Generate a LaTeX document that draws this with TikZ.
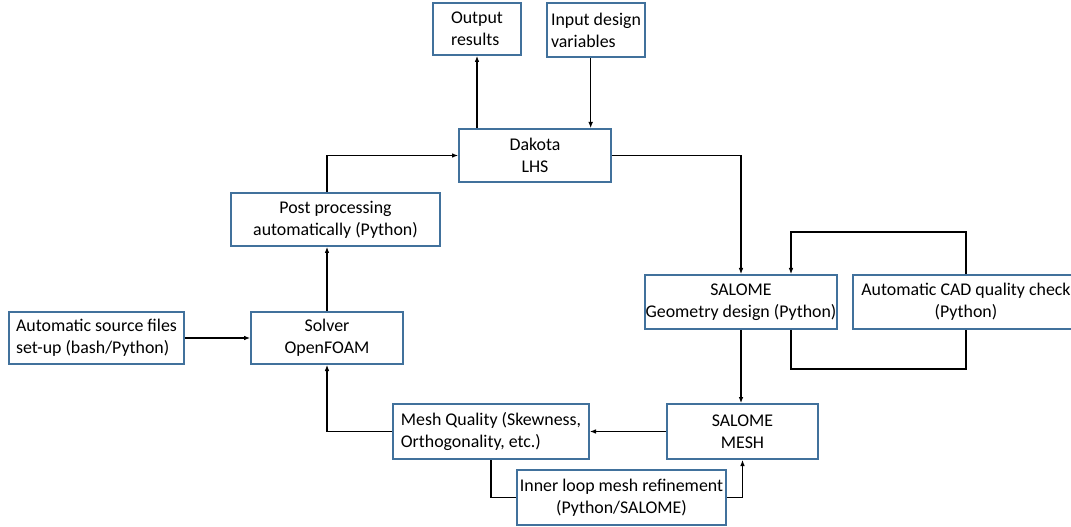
\documentclass[tikz,border=0pt]{standalone}
\usepackage{fontspec}
\setmainfont{Carlito}
\usetikzlibrary{arrows.meta}
\definecolor{boxblue}{RGB}{65,113,156}

\begin{document}
\begin{tikzpicture}[x=0.75pt,y=-0.75pt,
% common options for the boxes:
box/.style = {draw=boxblue, line width=1.5pt, fill=white, align=center,
            inner sep=0, font=\fontsize{13.4}{16.5}\selectfont},
lbox/.style = {box, align=left},
>={Latex[length=4.5pt,width=3.5pt]}, line width=0.8pt]
\clip (0,0) rectangle (1071,527);
\node[lbox, minimum width=66pt, minimum height=39pt] (out) at (477,29) {Output\\results};
\node[lbox, minimum width=73.5pt, minimum height=40.5pt] (inp) at (596,30) {Input design\\variables};
\node[box, minimum width=114pt, minimum height=39.75pt] (dak) at (535,155.5) {Dakota\\LHS};
\node[box, minimum width=156.75pt, minimum height=39.75pt] (post) at (335.5,219.5) {Post processing\\automatically (Python)};
\node[box, minimum width=114pt, minimum height=39pt] (solv) at (327,338) {Solver\\OpenFOAM};
\node[lbox, minimum width=131.25pt, minimum height=39pt] (src) at (96.5,338) {Automatic source files\\set-up (bash/Python)};
\node[box, minimum width=144pt, minimum height=40.5pt] (geo) at (741,302) {SALOME\\Geometry design (Python)};
\node[box, minimum width=169.5pt, minimum height=40.5pt] (cad) at (966,302) {Automatic CAD quality check\\(Python)};
\node[box, minimum width=113.25pt, minimum height=41.25pt] (mesh) at (742.5,431.5) {SALOME\\MESH};
\node[lbox, minimum width=147pt, minimum height=41.25pt] (qual) at (491,431.5) {Mesh Quality (Skewness,\\Orthogonality, etc.)};
\node[box, minimum width=156.75pt, minimum height=41.25pt] (ref) at (621.5,497.5) {Inner loop mesh refinement\\(Python/SALOME)};
\draw[->] (dak.north -| out) -- (out.south);
\draw[->] ([xshift=-4pt]inp.south) -- ([xshift=-4pt]inp.south |- dak.north);
\draw[->] (solv.north) -- (solv.north |- post.south);
\draw[->] (solv |- post.north) |- (dak.west);
\draw[->] (dak.east) -| (geo.north);
\draw[->] (cad.north) -- ++(0,-42) -| ([xshift=37.5pt]geo.north);
\draw ([xshift=37.5pt]geo.south) -- ++(0,39) -| (cad.south);
\draw[->] (geo.south) -- (geo.south |- mesh.north);
\draw[->] (mesh.west) -- (qual.east);
\draw[->] (qual.west) -| (solv.south);
\draw (qual.south) |- (ref.west);
\draw[->] (ref.east) -| (mesh.south);
\draw[->] (src.east) -- (solv.west);
\end{tikzpicture}
\end{document}
